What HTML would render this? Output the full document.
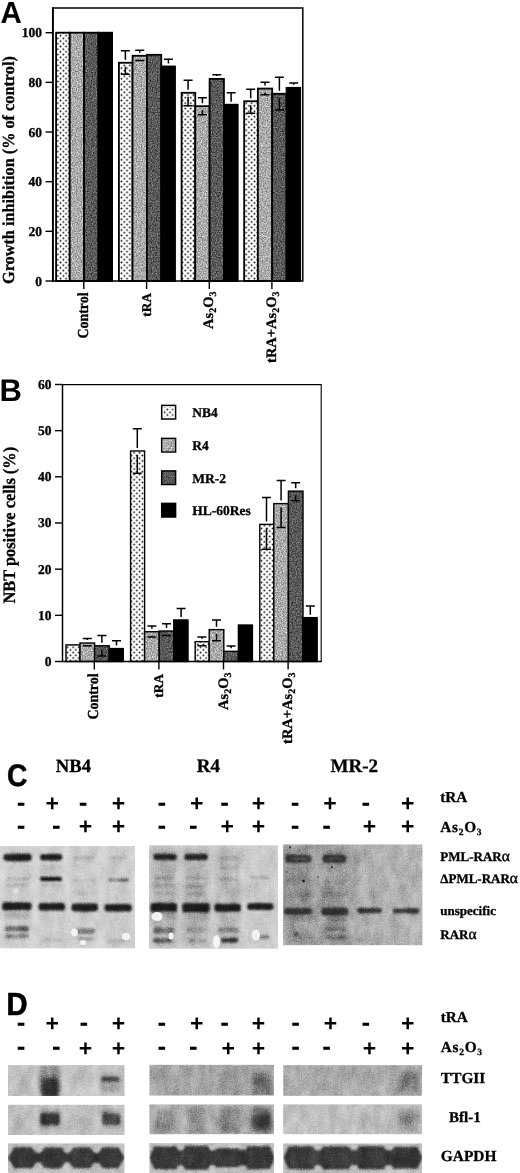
<!DOCTYPE html>
<html lang="en"><head><meta charset="utf-8"><title>Figure</title>
<style>html,body{margin:0;padding:0;background:#fff}svg{display:block}text{font-family:"Liberation Serif", "DejaVu Serif", serif;font-weight:bold;fill:#000;stroke:#000;stroke-width:0.3px;text-rendering:geometricPrecision}.pl,.pm{font-family:"Liberation Sans", "DejaVu Sans", sans-serif;font-weight:bold;font-size:29px;stroke:none}.pm{font-size:26px}.pp{font-size:23px}</style></head><body>
<svg width="520" height="1173" viewBox="0 0 520 1173">
<defs>
<pattern id="dots" width="5.54" height="5.4" patternUnits="userSpaceOnUse" patternTransform="translate(56.4,101.8)"><rect width="5.54" height="5.4" fill="#fff"/><circle cx="1.385" cy="1.35" r="0.9" fill="#000"/><circle cx="4.155" cy="4.05" r="0.9" fill="#000"/></pattern>
<pattern id="dotsB" width="5.54" height="5.4" patternUnits="userSpaceOnUse" patternTransform="translate(132.7,500.05)"><rect width="5.54" height="5.4" fill="#fff"/><circle cx="1.385" cy="1.35" r="0.9" fill="#000"/><circle cx="4.155" cy="4.05" r="0.9" fill="#000"/></pattern>
<filter id="nL" x="0" y="0" width="100%" height="100%" color-interpolation-filters="sRGB"><feTurbulence type="fractalNoise" baseFrequency="0.8" numOctaves="2" seed="3" result="n"/><feColorMatrix in="n" type="matrix" values="0.8 0 0 0 0.27  0.8 0 0 0 0.27  0.8 0 0 0 0.27  0 0 0 0 1" result="g"/><feComposite in="g" in2="SourceGraphic" operator="in"/></filter>
<filter id="nD" x="0" y="0" width="100%" height="100%" color-interpolation-filters="sRGB"><feTurbulence type="fractalNoise" baseFrequency="0.8" numOctaves="2" seed="3" result="n"/><feColorMatrix in="n" type="matrix" values="0.7 0 0 0 0.0  0.7 0 0 0 0.0  0.7 0 0 0 0.0  0 0 0 0 1" result="g"/><feComposite in="g" in2="SourceGraphic" operator="in"/></filter>
<filter id="nB1" x="0" y="0" width="100%" height="100%" color-interpolation-filters="sRGB"><feTurbulence type="fractalNoise" baseFrequency="0.5" numOctaves="2" seed="5" result="n"/><feColorMatrix in="n" type="matrix" values="0.25 0 0 0 0.675  0.25 0 0 0 0.675  0.25 0 0 0 0.675  0 0 0 0 1" result="g"/><feComposite in="g" in2="SourceGraphic" operator="in"/></filter>
<filter id="nB2" x="0" y="0" width="100%" height="100%" color-interpolation-filters="sRGB"><feTurbulence type="fractalNoise" baseFrequency="0.5" numOctaves="2" seed="7" result="n"/><feColorMatrix in="n" type="matrix" values="0.3 0 0 0 0.44999999999999996  0.3 0 0 0 0.44999999999999996  0.3 0 0 0 0.44999999999999996  0 0 0 0 1" result="g"/><feComposite in="g" in2="SourceGraphic" operator="in"/></filter>
<filter id="nB3" x="0" y="0" width="100%" height="100%" color-interpolation-filters="sRGB"><feTurbulence type="fractalNoise" baseFrequency="0.5" numOctaves="2" seed="9" result="n"/><feColorMatrix in="n" type="matrix" values="0.3 0 0 0 0.53  0.3 0 0 0 0.53  0.3 0 0 0 0.53  0 0 0 0 1" result="g"/><feComposite in="g" in2="SourceGraphic" operator="in"/></filter>
<filter id="b1" x="-20%" y="-50%" width="140%" height="200%"><feGaussianBlur stdDeviation="1.0"/></filter>
<filter id="b2" x="-30%" y="-50%" width="160%" height="200%"><feGaussianBlur stdDeviation="2"/></filter>
<filter id="b3" x="-30%" y="-50%" width="160%" height="200%"><feGaussianBlur stdDeviation="3"/></filter>
<filter id="b05" x="-20%" y="-50%" width="140%" height="200%"><feGaussianBlur stdDeviation="0.6"/></filter>
<filter id="grain" x="0" y="0" width="100%" height="100%" color-interpolation-filters="sRGB"><feTurbulence type="fractalNoise" baseFrequency="0.75" numOctaves="2" seed="11" result="n"/><feColorMatrix in="n" type="matrix" values="0.46 0 0 0 0.27  0.46 0 0 0 0.27  0.46 0 0 0 0.27  0 0 0 0 1" result="g"/><feComposite in="g" in2="SourceGraphic" operator="in"/></filter>
<filter id="mottle" x="0" y="0" width="100%" height="100%" color-interpolation-filters="sRGB"><feTurbulence type="fractalNoise" baseFrequency="0.10 0.06" numOctaves="2" seed="4" result="n"/><feColorMatrix in="n" type="matrix" values="0.36 0 0 0 0.32  0.36 0 0 0 0.32  0.36 0 0 0 0.32  0 0 0 0 1" result="g"/><feComposite in="g" in2="SourceGraphic" operator="in"/></filter>
</defs>
<rect width="520" height="1173" fill="#fff"/>
<text class="pl" transform="translate(0.6 22.5) scale(0.97 1)" style="font-size:30.4px">A</text>
<rect x="55.40" y="32.70" width="14.35" height="248.30" fill="url(#dots)"/>
<rect x="56.10" y="32.70" width="13.65" height="248.30" fill="none" stroke="#000" stroke-width="1.8"/>
<rect x="69.75" y="32.70" width="14.35" height="248.30" fill="#ababab"/>
<rect x="69.75" y="32.70" width="14.35" height="248.30" fill="#fff" filter="url(#nL)"/>
<rect x="69.75" y="32.70" width="14.35" height="248.30" fill="none" stroke="#000" stroke-width="1.8"/>
<rect x="84.10" y="32.70" width="14.35" height="248.30" fill="#595959"/>
<rect x="84.10" y="32.70" width="14.35" height="248.30" fill="#fff" filter="url(#nD)"/>
<rect x="84.10" y="32.70" width="14.35" height="248.30" fill="none" stroke="#000" stroke-width="1.8"/>
<rect x="98.45" y="32.70" width="14.35" height="248.30" fill="#000"/>
<rect x="98.45" y="32.70" width="13.65" height="248.30" fill="none" stroke="#000" stroke-width="1.8"/>
<rect x="118.20" y="62.74" width="14.35" height="218.26" fill="url(#dots)"/>
<rect x="118.90" y="62.74" width="13.65" height="218.26" fill="none" stroke="#000" stroke-width="1.8"/>
<rect x="132.55" y="55.79" width="14.35" height="225.21" fill="#ababab"/>
<rect x="132.55" y="55.79" width="14.35" height="225.21" fill="#fff" filter="url(#nL)"/>
<rect x="132.55" y="55.79" width="14.35" height="225.21" fill="none" stroke="#000" stroke-width="1.8"/>
<rect x="146.90" y="54.80" width="14.35" height="226.20" fill="#595959"/>
<rect x="146.90" y="54.80" width="14.35" height="226.20" fill="#fff" filter="url(#nD)"/>
<rect x="146.90" y="54.80" width="14.35" height="226.20" fill="none" stroke="#000" stroke-width="1.8"/>
<rect x="161.25" y="66.47" width="14.35" height="214.53" fill="#000"/>
<rect x="161.25" y="66.47" width="13.65" height="214.53" fill="none" stroke="#000" stroke-width="1.8"/>
<path d="M120.88 50.83H129.88M125.38 50.83V59.74" stroke="#000" stroke-width="1.5" fill="none"/>
<path d="M120.88 74.17H129.88M125.38 74.17V66.74" stroke="#000" stroke-width="1.5" fill="none"/>
<path d="M135.23 50.33H144.23M139.73 50.33V52.79" stroke="#000" stroke-width="1.5" fill="none"/>
<path d="M135.23 60.51H144.23" stroke="#000" stroke-width="1.5" fill="none"/>
<path d="M163.93 59.27H172.93M168.43 59.27V63.47" stroke="#000" stroke-width="1.5" fill="none"/>
<rect x="180.90" y="92.79" width="14.35" height="188.21" fill="url(#dots)"/>
<rect x="181.60" y="92.79" width="13.65" height="188.21" fill="none" stroke="#000" stroke-width="1.8"/>
<rect x="195.25" y="106.20" width="14.35" height="174.80" fill="#ababab"/>
<rect x="195.25" y="106.20" width="14.35" height="174.80" fill="#fff" filter="url(#nL)"/>
<rect x="195.25" y="106.20" width="14.35" height="174.80" fill="none" stroke="#000" stroke-width="1.8"/>
<rect x="209.60" y="78.88" width="14.35" height="202.12" fill="#595959"/>
<rect x="209.60" y="78.88" width="14.35" height="202.12" fill="#fff" filter="url(#nD)"/>
<rect x="209.60" y="78.88" width="14.35" height="202.12" fill="none" stroke="#000" stroke-width="1.8"/>
<rect x="223.95" y="104.71" width="14.35" height="176.29" fill="#000"/>
<rect x="223.95" y="104.71" width="13.65" height="176.29" fill="none" stroke="#000" stroke-width="1.8"/>
<path d="M183.58 80.37H192.58M188.08 80.37V89.79" stroke="#000" stroke-width="1.5" fill="none"/>
<path d="M183.58 105.70H192.58M188.08 105.70V96.79" stroke="#000" stroke-width="1.5" fill="none"/>
<path d="M197.93 97.75H206.93M202.43 97.75V103.20" stroke="#000" stroke-width="1.5" fill="none"/>
<path d="M197.93 114.64H206.93M202.43 114.64V110.20" stroke="#000" stroke-width="1.5" fill="none"/>
<path d="M212.28 74.66H221.28M216.78 74.66V75.88" stroke="#000" stroke-width="1.5" fill="none"/>
<path d="M226.62 92.79H235.62M231.12 92.79V101.71" stroke="#000" stroke-width="1.5" fill="none"/>
<rect x="243.50" y="101.23" width="14.35" height="179.77" fill="url(#dots)"/>
<rect x="244.20" y="101.23" width="13.65" height="179.77" fill="none" stroke="#000" stroke-width="1.8"/>
<rect x="257.85" y="88.57" width="14.35" height="192.43" fill="#ababab"/>
<rect x="257.85" y="88.57" width="14.35" height="192.43" fill="#fff" filter="url(#nL)"/>
<rect x="257.85" y="88.57" width="14.35" height="192.43" fill="none" stroke="#000" stroke-width="1.8"/>
<rect x="272.20" y="93.78" width="14.35" height="187.22" fill="#595959"/>
<rect x="272.20" y="93.78" width="14.35" height="187.22" fill="#fff" filter="url(#nD)"/>
<rect x="272.20" y="93.78" width="14.35" height="187.22" fill="none" stroke="#000" stroke-width="1.8"/>
<rect x="286.55" y="87.82" width="14.35" height="193.18" fill="#000"/>
<rect x="286.55" y="87.82" width="13.65" height="193.18" fill="none" stroke="#000" stroke-width="1.8"/>
<path d="M246.18 89.31H255.18M250.68 89.31V98.23" stroke="#000" stroke-width="1.5" fill="none"/>
<path d="M246.18 113.15H255.18M250.68 113.15V105.23" stroke="#000" stroke-width="1.5" fill="none"/>
<path d="M260.53 82.36H269.53M265.03 82.36V85.57" stroke="#000" stroke-width="1.5" fill="none"/>
<path d="M260.53 94.78H269.53M265.03 94.78V92.57" stroke="#000" stroke-width="1.5" fill="none"/>
<path d="M274.88 77.15H283.88M279.38 77.15V90.78" stroke="#000" stroke-width="1.5" fill="none"/>
<path d="M274.88 109.92H283.88M279.38 109.92V97.78" stroke="#000" stroke-width="1.5" fill="none"/>
<path d="M289.23 83.10H298.23M293.73 83.10V84.82" stroke="#000" stroke-width="1.5" fill="none"/>
<rect x="53.00" y="8.00" width="249.80" height="273.00" fill="none" stroke="#000" stroke-width="1.5"/>
<path d="M52.80 7.30V281.70" stroke="#000" stroke-width="1.7"/>
<path d="M45.5 281.00H53.00" stroke="#000" stroke-width="1.4"/>
<text x="42" y="285.50" text-anchor="end" style="font-size:13.5px">0</text>
<path d="M45.5 231.34H53.00" stroke="#000" stroke-width="1.4"/>
<text x="42" y="235.84" text-anchor="end" style="font-size:13.5px">20</text>
<path d="M45.5 181.68H53.00" stroke="#000" stroke-width="1.4"/>
<text x="42" y="186.18" text-anchor="end" style="font-size:13.5px">40</text>
<path d="M45.5 132.02H53.00" stroke="#000" stroke-width="1.4"/>
<text x="42" y="136.52" text-anchor="end" style="font-size:13.5px">60</text>
<path d="M45.5 82.36H53.00" stroke="#000" stroke-width="1.4"/>
<text x="42" y="86.86" text-anchor="end" style="font-size:13.5px">80</text>
<path d="M45.5 32.70H53.00" stroke="#000" stroke-width="1.4"/>
<text x="42" y="37.20" text-anchor="end" style="font-size:13.5px">100</text>
<path d="M83.80 281.00V289.00" stroke="#000" stroke-width="1.4"/>
<text transform="translate(87.80 292.50) rotate(-90) scale(1 1.10)" text-anchor="end" style="font-size:13.9px">Control</text>
<path d="M146.60 281.00V289.00" stroke="#000" stroke-width="1.4"/>
<text transform="translate(150.60 293.00) rotate(-90) scale(1 1.00)" text-anchor="end" style="font-size:13.3px">tRA</text>
<path d="M209.30 281.00V289.00" stroke="#000" stroke-width="1.4"/>
<text transform="translate(213.30 291.50) rotate(-90) scale(1 1.00)" text-anchor="end" style="font-size:14.5px">As<tspan dy="3" style="font-size:10.0px">2</tspan><tspan dy="-3">O</tspan><tspan dy="3" style="font-size:10.0px">3</tspan></text>
<path d="M271.90 281.00V289.00" stroke="#000" stroke-width="1.4"/>
<text transform="translate(275.90 291.50) rotate(-90) scale(1 1.00)" text-anchor="end" style="font-size:14.5px">tRA+As<tspan dy="3" style="font-size:10.0px">2</tspan><tspan dy="-3">O</tspan><tspan dy="3" style="font-size:10.0px">3</tspan></text>
<text transform="translate(14.3 284) rotate(-90) scale(1 1.04)" style="font-size:16.25px">Growth inhibition (% of control)</text>
<text class="pl" transform="translate(-0.6 400.9) scale(0.99 1)" style="font-size:31.3px">B</text>
<rect x="65.40" y="644.88" width="14.60" height="16.62" fill="url(#dotsB)"/>
<rect x="66.00" y="644.88" width="14.00" height="16.62" fill="none" stroke="#000" stroke-width="1.4"/>
<rect x="80.00" y="643.03" width="14.60" height="18.47" fill="#ababab"/>
<rect x="80.00" y="643.03" width="14.60" height="18.47" fill="#fff" filter="url(#nL)"/>
<rect x="80.00" y="643.03" width="14.60" height="18.47" fill="none" stroke="#000" stroke-width="1.4"/>
<rect x="94.60" y="645.80" width="14.60" height="15.70" fill="#595959"/>
<rect x="94.60" y="645.80" width="14.60" height="15.70" fill="#fff" filter="url(#nD)"/>
<rect x="94.60" y="645.80" width="14.60" height="15.70" fill="none" stroke="#000" stroke-width="1.4"/>
<rect x="109.20" y="648.57" width="14.60" height="12.93" fill="#000"/>
<rect x="109.20" y="648.57" width="14.00" height="12.93" fill="none" stroke="#000" stroke-width="1.4"/>
<path d="M82.80 638.41H91.80M87.30 638.41V640.03" stroke="#000" stroke-width="1.5" fill="none"/>
<path d="M82.80 645.80H91.80" stroke="#000" stroke-width="1.5" fill="none"/>
<path d="M97.40 635.41H106.40M101.90 635.41V642.80" stroke="#000" stroke-width="1.5" fill="none"/>
<path d="M97.40 655.96H106.40M101.90 655.96V649.80" stroke="#000" stroke-width="1.5" fill="none"/>
<path d="M112.00 640.72H121.00M116.50 640.72V645.57" stroke="#000" stroke-width="1.5" fill="none"/>
<rect x="130.00" y="450.96" width="14.60" height="210.54" fill="url(#dotsB)"/>
<rect x="130.60" y="450.96" width="14.00" height="210.54" fill="none" stroke="#000" stroke-width="1.4"/>
<rect x="144.60" y="631.72" width="14.60" height="29.78" fill="#ababab"/>
<rect x="144.60" y="631.72" width="14.60" height="29.78" fill="#fff" filter="url(#nL)"/>
<rect x="144.60" y="631.72" width="14.60" height="29.78" fill="none" stroke="#000" stroke-width="1.4"/>
<rect x="159.20" y="631.03" width="14.60" height="30.47" fill="#595959"/>
<rect x="159.20" y="631.03" width="14.60" height="30.47" fill="#fff" filter="url(#nD)"/>
<rect x="159.20" y="631.03" width="14.60" height="30.47" fill="none" stroke="#000" stroke-width="1.4"/>
<rect x="173.80" y="619.95" width="14.60" height="41.55" fill="#000"/>
<rect x="173.80" y="619.95" width="14.00" height="41.55" fill="none" stroke="#000" stroke-width="1.4"/>
<path d="M132.80 428.80H141.80M137.30 428.80V447.96" stroke="#000" stroke-width="1.5" fill="none"/>
<path d="M132.80 473.13H141.80M137.30 473.13V454.96" stroke="#000" stroke-width="1.5" fill="none"/>
<path d="M147.40 625.95H156.40M151.90 625.95V628.72" stroke="#000" stroke-width="1.5" fill="none"/>
<path d="M147.40 637.03H156.40M151.90 637.03V635.72" stroke="#000" stroke-width="1.5" fill="none"/>
<path d="M162.00 623.64H171.00M166.50 623.64V628.03" stroke="#000" stroke-width="1.5" fill="none"/>
<path d="M162.00 635.41H171.00" stroke="#000" stroke-width="1.5" fill="none"/>
<path d="M176.60 608.40H185.60M181.10 608.40V616.95" stroke="#000" stroke-width="1.5" fill="none"/>
<rect x="194.60" y="641.65" width="14.60" height="19.85" fill="url(#dotsB)"/>
<rect x="195.20" y="641.65" width="14.00" height="19.85" fill="none" stroke="#000" stroke-width="1.4"/>
<rect x="209.20" y="629.64" width="14.60" height="31.86" fill="#ababab"/>
<rect x="209.20" y="629.64" width="14.60" height="31.86" fill="#fff" filter="url(#nL)"/>
<rect x="209.20" y="629.64" width="14.60" height="31.86" fill="none" stroke="#000" stroke-width="1.4"/>
<rect x="223.80" y="651.34" width="14.60" height="10.16" fill="#595959"/>
<rect x="223.80" y="651.34" width="14.60" height="10.16" fill="#fff" filter="url(#nD)"/>
<rect x="223.80" y="651.34" width="14.60" height="10.16" fill="none" stroke="#000" stroke-width="1.4"/>
<rect x="238.40" y="625.03" width="14.60" height="36.47" fill="#000"/>
<rect x="238.40" y="625.03" width="14.00" height="36.47" fill="none" stroke="#000" stroke-width="1.4"/>
<path d="M197.40 637.03H206.40M201.90 637.03V638.65" stroke="#000" stroke-width="1.5" fill="none"/>
<path d="M197.40 645.80H206.40" stroke="#000" stroke-width="1.5" fill="none"/>
<path d="M212.00 619.95H221.00M216.50 619.95V626.64" stroke="#000" stroke-width="1.5" fill="none"/>
<path d="M212.00 640.72H221.00M216.50 640.72V633.64" stroke="#000" stroke-width="1.5" fill="none"/>
<path d="M226.60 646.03H235.60M231.10 646.03V648.34" stroke="#000" stroke-width="1.5" fill="none"/>
<rect x="259.20" y="524.38" width="14.60" height="137.12" fill="url(#dotsB)"/>
<rect x="259.80" y="524.38" width="14.00" height="137.12" fill="none" stroke="#000" stroke-width="1.4"/>
<rect x="273.80" y="503.60" width="14.60" height="157.90" fill="#ababab"/>
<rect x="273.80" y="503.60" width="14.60" height="157.90" fill="#fff" filter="url(#nL)"/>
<rect x="273.80" y="503.60" width="14.60" height="157.90" fill="none" stroke="#000" stroke-width="1.4"/>
<rect x="288.40" y="491.13" width="14.60" height="170.37" fill="#595959"/>
<rect x="288.40" y="491.13" width="14.60" height="170.37" fill="#fff" filter="url(#nD)"/>
<rect x="288.40" y="491.13" width="14.60" height="170.37" fill="none" stroke="#000" stroke-width="1.4"/>
<rect x="303.00" y="617.64" width="14.60" height="43.86" fill="#000"/>
<rect x="303.00" y="617.64" width="14.00" height="43.86" fill="none" stroke="#000" stroke-width="1.4"/>
<path d="M262.00 497.60H271.00M266.50 497.60V521.38" stroke="#000" stroke-width="1.5" fill="none"/>
<path d="M262.00 549.31H271.00M266.50 549.31V528.38" stroke="#000" stroke-width="1.5" fill="none"/>
<path d="M276.60 480.51H285.60M281.10 480.51V500.60" stroke="#000" stroke-width="1.5" fill="none"/>
<path d="M276.60 527.61H285.60M281.10 527.61V507.60" stroke="#000" stroke-width="1.5" fill="none"/>
<path d="M291.20 482.82H300.20M295.70 482.82V488.13" stroke="#000" stroke-width="1.5" fill="none"/>
<path d="M291.20 500.83H300.20M295.70 500.83V495.13" stroke="#000" stroke-width="1.5" fill="none"/>
<path d="M305.80 606.10H314.80M310.30 606.10V614.64" stroke="#000" stroke-width="1.5" fill="none"/>
<path d="M62.50 384.60H321.20V661.50" fill="none" stroke="#000" stroke-width="1.1"/>
<path d="M62.50 384.10V661.50H321.70" fill="none" stroke="#000" stroke-width="1.5"/>
<path d="M55 661.50H62.50" stroke="#000" stroke-width="1.4"/>
<text x="51.5" y="666.00" text-anchor="end" style="font-size:13.5px">0</text>
<path d="M55 615.33H62.50" stroke="#000" stroke-width="1.4"/>
<text x="51.5" y="619.83" text-anchor="end" style="font-size:13.5px">10</text>
<path d="M55 569.16H62.50" stroke="#000" stroke-width="1.4"/>
<text x="51.5" y="573.66" text-anchor="end" style="font-size:13.5px">20</text>
<path d="M55 522.99H62.50" stroke="#000" stroke-width="1.4"/>
<text x="51.5" y="527.49" text-anchor="end" style="font-size:13.5px">30</text>
<path d="M55 476.82H62.50" stroke="#000" stroke-width="1.4"/>
<text x="51.5" y="481.32" text-anchor="end" style="font-size:13.5px">40</text>
<path d="M55 430.65H62.50" stroke="#000" stroke-width="1.4"/>
<text x="51.5" y="435.15" text-anchor="end" style="font-size:13.5px">50</text>
<path d="M55 384.48H62.50" stroke="#000" stroke-width="1.4"/>
<text x="51.5" y="388.98" text-anchor="end" style="font-size:13.5px">60</text>
<path d="M94.30 661.50V669.50" stroke="#000" stroke-width="1.4"/>
<text transform="translate(98.30 673.50) rotate(-90) scale(1 1.10)" text-anchor="end" style="font-size:13.9px">Control</text>
<path d="M158.90 661.50V669.50" stroke="#000" stroke-width="1.4"/>
<text transform="translate(162.90 674.00) rotate(-90) scale(1 1.00)" text-anchor="end" style="font-size:13.3px">tRA</text>
<path d="M223.50 661.50V669.50" stroke="#000" stroke-width="1.4"/>
<text transform="translate(227.50 672.50) rotate(-90) scale(1 1.00)" text-anchor="end" style="font-size:14.5px">As<tspan dy="3" style="font-size:10.0px">2</tspan><tspan dy="-3">O</tspan><tspan dy="3" style="font-size:10.0px">3</tspan></text>
<path d="M288.10 661.50V669.50" stroke="#000" stroke-width="1.4"/>
<text transform="translate(292.10 672.50) rotate(-90) scale(1 1.00)" text-anchor="end" style="font-size:14.5px">tRA+As<tspan dy="3" style="font-size:10.0px">2</tspan><tspan dy="-3">O</tspan><tspan dy="3" style="font-size:10.0px">3</tspan></text>
<text transform="translate(14.5 603.6) rotate(-90) scale(1 1.06)" style="font-size:16.4px">NBT positive cells (%)</text>
<rect x="163.70" y="407.40" width="9.90" height="9.60" fill="url(#dotsB)"/>
<rect x="163.70" y="407.40" width="9.90" height="9.60" fill="none" stroke="#000" stroke-width="0.0"/>
<rect x="161.7" y="405.40" width="13.9" height="13.6" fill="none" stroke="#000" stroke-width="1.5"/>
<text x="192.3" y="417.00" style="font-size:13.5px">NB4</text>
<rect x="162.70" y="439.40" width="11.90" height="11.60" fill="#ababab"/>
<rect x="162.70" y="439.40" width="11.90" height="11.60" fill="#fff" filter="url(#nL)"/>
<rect x="162.70" y="439.40" width="11.90" height="11.60" fill="none" stroke="#000" stroke-width="0.0"/>
<rect x="161.7" y="438.40" width="13.9" height="13.6" fill="none" stroke="#000" stroke-width="1.5"/>
<text x="192.3" y="450.00" style="font-size:13.5px">R4</text>
<rect x="162.00" y="471.20" width="13.30" height="13.00" fill="#595959"/>
<rect x="162.00" y="471.20" width="13.30" height="13.00" fill="#fff" filter="url(#nD)"/>
<rect x="162.00" y="471.20" width="13.30" height="13.00" fill="none" stroke="#000" stroke-width="0.0"/>
<rect x="161.7" y="470.90" width="13.9" height="13.6" fill="none" stroke="#000" stroke-width="1.5"/>
<text x="192.3" y="482.50" style="font-size:13.5px">MR-2</text>
<rect x="161.70" y="503.40" width="13.90" height="13.60" fill="#000"/>
<rect x="161.70" y="503.40" width="13.90" height="13.60" fill="none" stroke="#000" stroke-width="0.0"/>
<rect x="161.7" y="503.40" width="13.9" height="13.6" fill="none" stroke="#000" stroke-width="1.5"/>
<text x="192.3" y="515.00" style="font-size:13.5px">HL-60Res</text>
<text class="pl" transform="translate(6.9 786.3) scale(0.91 1)" style="font-size:31px;stroke:#000;stroke-width:0.5px">C</text>
<text x="55.8" y="771.7" style="font-size:18.6px">NB4</text>
<text x="196.8" y="772.4" style="font-size:19px">R4</text>
<text x="330.5" y="771.6" style="font-size:19px">MR-2</text>
<text class="pm" x="21.0" y="810.9" text-anchor="middle">-</text>
<text class="pm pp" x="52.3" y="811.2" text-anchor="middle">+</text>
<text class="pm" x="83.2" y="810.9" text-anchor="middle">-</text>
<text class="pm pp" x="118.5" y="811.2" text-anchor="middle">+</text>
<text class="pm" x="161.8" y="810.9" text-anchor="middle">-</text>
<text class="pm pp" x="196.6" y="811.2" text-anchor="middle">+</text>
<text class="pm" x="224.6" y="810.9" text-anchor="middle">-</text>
<text class="pm pp" x="258.5" y="811.2" text-anchor="middle">+</text>
<text class="pm" x="295.1" y="810.9" text-anchor="middle">-</text>
<text class="pm pp" x="329.9" y="811.2" text-anchor="middle">+</text>
<text class="pm" x="365.9" y="810.9" text-anchor="middle">-</text>
<text class="pm pp" x="407.7" y="811.2" text-anchor="middle">+</text>
<text class="pm" x="21.0" y="833.5" text-anchor="middle">-</text>
<text class="pm" x="56.3" y="833.5" text-anchor="middle">-</text>
<text class="pm pp" x="85.4" y="834.3" text-anchor="middle">+</text>
<text class="pm pp" x="118.5" y="834.3" text-anchor="middle">+</text>
<text class="pm" x="161.8" y="833.5" text-anchor="middle">-</text>
<text class="pm" x="193.3" y="833.5" text-anchor="middle">-</text>
<text class="pm pp" x="227.3" y="834.3" text-anchor="middle">+</text>
<text class="pm pp" x="258.5" y="834.3" text-anchor="middle">+</text>
<text class="pm" x="295.1" y="833.5" text-anchor="middle">-</text>
<text class="pm" x="326.6" y="833.5" text-anchor="middle">-</text>
<text class="pm pp" x="369.5" y="834.3" text-anchor="middle">+</text>
<text class="pm pp" x="407.7" y="834.3" text-anchor="middle">+</text>
<text x="440.3" y="802.3" style="font-size:15.2px">tRA</text>
<text x="440.3" y="831.6" style="font-size:15.3px;letter-spacing:0.7px">As<tspan dy="3" style="font-size:9.5px">2</tspan><tspan dy="-3">O</tspan><tspan dy="3" style="font-size:9.5px">3</tspan></text>
<text x="440.3" y="860.8" style="font-size:13px">PML-RAR<tspan style="font-size:15.5px;font-weight:normal;stroke-width:0.45px">α</tspan></text>
<text x="440.3" y="883.4" style="font-size:13px">ΔPML-RAR<tspan style="font-size:15.5px;font-weight:normal;stroke-width:0.45px">α</tspan></text>
<text x="440.3" y="915" style="font-size:13px">unspecific</text>
<text x="440.3" y="939" style="font-size:13px">RAR<tspan style="font-size:15.5px;font-weight:normal;stroke-width:0.45px">α</tspan></text>
<clipPath id="cC1"><rect x="0.0" y="846.0" width="135.0" height="102.3"/></clipPath>
<g clip-path="url(#cC1)">
<rect x="0.0" y="846.0" width="135.0" height="102.3" fill="#d6d6d6"/>
<rect x="3.0" y="847.0" width="29.0" height="100.0" rx="3.0" fill="#c6c6c6" filter="url(#b3)" opacity="0.70"/>
<rect x="39.0" y="847.0" width="25.0" height="100.0" rx="3.0" fill="#c6c6c6" filter="url(#b3)" opacity="0.70"/>
<rect x="71.0" y="847.0" width="27.0" height="100.0" rx="3.0" fill="#c6c6c6" filter="url(#b3)" opacity="0.70"/>
<rect x="104.0" y="847.0" width="28.0" height="100.0" rx="3.0" fill="#c6c6c6" filter="url(#b3)" opacity="0.70"/>
<rect x="3.5" y="853.8" width="28.0" height="7.5" rx="3.0" fill="#1c1c1c" filter="url(#b1)"/>
<rect x="40.0" y="854.0" width="22.5" height="6.5" rx="3.0" fill="#1c1c1c" filter="url(#b1)"/>
<rect x="73.0" y="856.5" width="22.0" height="3.0" rx="1.5" fill="#b4b4b4" filter="url(#b1)"/>
<rect x="107.0" y="856.5" width="21.0" height="3.0" rx="1.5" fill="#b8b8b8" filter="url(#b1)"/>
<rect x="40.0" y="876.9" width="22.0" height="4.2" rx="2.1" fill="#080808" filter="url(#b1)"/>
<rect x="108.0" y="878.6" width="21.0" height="2.8" rx="1.4" fill="#6e6e6e" filter="url(#b1)"/>
<rect x="6.0" y="877.5" width="23.0" height="3.0" rx="1.5" fill="#b4b4b4" filter="url(#b1)"/>
<rect x="6.0" y="883.0" width="23.0" height="4.0" rx="2.0" fill="#b8b8b8" filter="url(#b1)"/>
<rect x="73.0" y="878.8" width="22.0" height="2.5" rx="1.2" fill="#bcbcbc" filter="url(#b1)"/>
<rect x="42.0" y="865.5" width="19.0" height="3.0" rx="1.5" fill="#bbbbbb" filter="url(#b1)"/>
<rect x="42.0" y="883.5" width="19.0" height="3.0" rx="1.5" fill="#b8b8b8" filter="url(#b1)"/>
<rect x="74.0" y="891.0" width="22.0" height="4.0" rx="2.0" fill="#c2c2c2" filter="url(#b1)"/>
<rect x="2.5" y="902.3" width="29.0" height="8.0" rx="3.0" fill="#1c1c1c" filter="url(#b1)"/>
<rect x="38.5" y="903.0" width="26.5" height="7.5" rx="3.0" fill="#1c1c1c" filter="url(#b1)"/>
<rect x="71.5" y="903.5" width="26.5" height="8.0" rx="3.0" fill="#1c1c1c" filter="url(#b1)"/>
<rect x="104.5" y="904.0" width="27.5" height="7.5" rx="3.0" fill="#1c1c1c" filter="url(#b1)"/>
<rect x="6.0" y="912.5" width="24.0" height="5.0" rx="2.5" fill="#a4a4a4" filter="url(#b2)"/>
<rect x="5.0" y="925.9" width="24.0" height="5.5" rx="2.8" fill="#666666" filter="url(#b1)"/>
<rect x="5.0" y="933.8" width="24.0" height="4.5" rx="2.2" fill="#868686" filter="url(#b1)"/>
<rect x="76.0" y="928.2" width="19.0" height="5.5" rx="2.8" fill="#7a7a7a" filter="url(#b1)"/>
<rect x="78.0" y="937.2" width="17.0" height="3.5" rx="1.8" fill="#a0a0a0" filter="url(#b1)"/>
<rect x="42.0" y="938.5" width="20.0" height="3.0" rx="1.5" fill="#b4b4b4" filter="url(#b1)"/>
<rect x="108.0" y="939.5" width="18.0" height="3.0" rx="1.5" fill="#b8b8b8" filter="url(#b1)"/>
<ellipse cx="15.5" cy="891.0" rx="2.6" ry="2.2" fill="#e6e6e6" filter="url(#b1)"/>
<ellipse cx="74.5" cy="932.5" rx="3.3" ry="4.0" fill="#f4f4f4" filter="url(#b05)"/>
<ellipse cx="83.0" cy="942.5" rx="3.0" ry="2.6" fill="#f4f4f4" filter="url(#b05)"/>
<ellipse cx="126.0" cy="936.5" rx="4.2" ry="3.8" fill="#f4f4f4" filter="url(#b05)"/>
<rect x="0.0" y="846.0" width="135.0" height="102.3" fill="#fff" filter="url(#mottle)" style="mix-blend-mode:overlay"/>
<rect x="0.0" y="846.0" width="135.0" height="102.3" fill="#fff" filter="url(#grain)" style="mix-blend-mode:overlay"/>
</g>
<clipPath id="cC2"><rect x="149.0" y="845.5" width="128.7" height="103.0"/></clipPath>
<g clip-path="url(#cC2)">
<rect x="149.0" y="845.5" width="128.7" height="103.0" fill="#d2d2d2"/>
<rect x="152.0" y="847.0" width="25.0" height="100.0" rx="3.0" fill="#a8a8a8" filter="url(#b3)" opacity="0.80"/>
<rect x="183.0" y="847.0" width="26.0" height="100.0" rx="3.0" fill="#aaaaaa" filter="url(#b3)" opacity="0.80"/>
<rect x="215.0" y="847.0" width="26.0" height="100.0" rx="3.0" fill="#b2b2b2" filter="url(#b3)" opacity="0.80"/>
<rect x="247.0" y="847.0" width="26.0" height="100.0" rx="3.0" fill="#c6c6c6" filter="url(#b3)" opacity="0.80"/>
<rect x="153.5" y="853.8" width="23.0" height="6.5" rx="3.0" fill="#242424" filter="url(#b1)"/>
<rect x="184.5" y="853.8" width="23.3" height="6.5" rx="3.0" fill="#242424" filter="url(#b1)"/>
<rect x="219.0" y="856.5" width="19.0" height="3.0" rx="1.5" fill="#9a9a9a" filter="url(#b1)"/>
<rect x="155.0" y="876.2" width="20.0" height="3.5" rx="1.8" fill="#949494" filter="url(#b1)"/>
<rect x="155.0" y="883.8" width="20.0" height="3.5" rx="1.8" fill="#989898" filter="url(#b1)"/>
<rect x="155.0" y="891.8" width="20.0" height="3.5" rx="1.8" fill="#969696" filter="url(#b1)"/>
<rect x="186.0" y="876.2" width="20.0" height="3.5" rx="1.8" fill="#969696" filter="url(#b1)"/>
<rect x="186.0" y="884.2" width="20.0" height="3.5" rx="1.8" fill="#9a9a9a" filter="url(#b1)"/>
<rect x="186.0" y="892.5" width="20.0" height="3.0" rx="1.5" fill="#a0a0a0" filter="url(#b1)"/>
<rect x="219.0" y="877.5" width="19.0" height="3.0" rx="1.5" fill="#9e9e9e" filter="url(#b1)"/>
<rect x="219.0" y="866.5" width="19.0" height="3.0" rx="1.5" fill="#a6a6a6" filter="url(#b1)"/>
<rect x="250.0" y="876.2" width="19.0" height="2.5" rx="1.2" fill="#a2a2a2" filter="url(#b1)"/>
<rect x="150.5" y="903.0" width="26.5" height="9.6" rx="3.0" fill="#1c1c1c" filter="url(#b1)"/>
<rect x="182.5" y="903.0" width="27.0" height="10.0" rx="3.0" fill="#1c1c1c" filter="url(#b1)"/>
<rect x="214.5" y="903.8" width="26.5" height="8.0" rx="3.0" fill="#1c1c1c" filter="url(#b1)"/>
<rect x="246.8" y="903.0" width="26.5" height="7.0" rx="3.0" fill="#1c1c1c" filter="url(#b1)"/>
<rect x="152.0" y="912.5" width="24.0" height="5.0" rx="2.5" fill="#909090" filter="url(#b2)"/>
<rect x="185.0" y="913.5" width="23.0" height="5.0" rx="2.5" fill="#a0a0a0" filter="url(#b2)"/>
<rect x="153.0" y="927.5" width="21.0" height="6.0" rx="3.0" fill="#6c6c6c" filter="url(#b1)"/>
<rect x="153.0" y="938.0" width="19.0" height="5.0" rx="2.5" fill="#5c5c5c" filter="url(#b1)"/>
<rect x="186.0" y="927.5" width="20.0" height="5.0" rx="2.5" fill="#9a9a9a" filter="url(#b1)"/>
<rect x="188.0" y="938.5" width="18.0" height="4.0" rx="2.0" fill="#909090" filter="url(#b1)"/>
<rect x="218.0" y="927.5" width="21.0" height="5.0" rx="2.5" fill="#8a8a8a" filter="url(#b1)"/>
<rect x="221.0" y="937.8" width="17.0" height="5.0" rx="2.5" fill="#303030" filter="url(#b1)"/>
<rect x="259.0" y="935.0" width="10.0" height="4.0" rx="2.0" fill="#848484" filter="url(#b1)"/>
<ellipse cx="157.0" cy="916.5" rx="5.5" ry="4.6" fill="#f4f4f4" filter="url(#b05)"/>
<ellipse cx="171.0" cy="936.0" rx="2.5" ry="3.5" fill="#f4f4f4" filter="url(#b05)"/>
<ellipse cx="216.5" cy="941.5" rx="3.6" ry="6.5" fill="#f4f4f4" filter="url(#b05)"/>
<ellipse cx="255.8" cy="935.0" rx="4.2" ry="5.6" fill="#f4f4f4" filter="url(#b05)"/>
<rect x="149.0" y="845.5" width="128.7" height="103.0" fill="#fff" filter="url(#mottle)" style="mix-blend-mode:overlay"/>
<rect x="149.0" y="845.5" width="128.7" height="103.0" fill="#fff" filter="url(#grain)" style="mix-blend-mode:overlay"/>
</g>
<linearGradient id="gM" x1="0" x2="1" y1="0" y2="0"><stop offset="0" stop-color="#a2a2a2"/><stop offset="0.45" stop-color="#a6a6a6"/><stop offset="0.56" stop-color="#b2b2b2"/><stop offset="1" stop-color="#b8b8b8"/></linearGradient>
<clipPath id="cC3"><rect x="283.2" y="844.5" width="139.2" height="100.7"/></clipPath>
<g clip-path="url(#cC3)">
<rect x="283.2" y="844.5" width="139.2" height="100.7" fill="url(#gM)"/>
<rect x="286.0" y="845.0" width="25.0" height="100.0" rx="3.0" fill="#8c8c8c" filter="url(#b3)" opacity="0.70"/>
<rect x="323.0" y="845.0" width="24.0" height="100.0" rx="3.0" fill="#8c8c8c" filter="url(#b3)" opacity="0.70"/>
<rect x="358.0" y="845.0" width="24.0" height="100.0" rx="3.0" fill="#acacac" filter="url(#b3)" opacity="0.70"/>
<rect x="394.0" y="845.0" width="25.0" height="100.0" rx="3.0" fill="#b0b0b0" filter="url(#b3)" opacity="0.70"/>
<rect x="285.5" y="854.8" width="26.0" height="8.0" rx="3.0" fill="#303030" filter="url(#b1)"/>
<rect x="322.5" y="854.8" width="23.3" height="8.0" rx="3.0" fill="#303030" filter="url(#b1)"/>
<rect x="290.0" y="857.5" width="18.0" height="2.2" rx="1.1" fill="#5a5a5a" filter="url(#b1)"/>
<rect x="326.0" y="857.5" width="17.0" height="2.2" rx="1.1" fill="#5a5a5a" filter="url(#b1)"/>
<rect x="287.0" y="878.5" width="24.0" height="5.0" rx="2.5" fill="#868686" filter="url(#b2)"/>
<rect x="287.0" y="892.0" width="24.0" height="6.0" rx="3.0" fill="#808080" filter="url(#b2)"/>
<rect x="324.0" y="878.0" width="23.0" height="4.0" rx="2.0" fill="#848484" filter="url(#b2)"/>
<rect x="324.0" y="891.0" width="23.0" height="6.0" rx="3.0" fill="#7c7c7c" filter="url(#b2)"/>
<rect x="325.0" y="868.0" width="21.0" height="4.0" rx="2.0" fill="#8c8c8c" filter="url(#b2)"/>
<rect x="358.0" y="891.5" width="24.0" height="5.0" rx="2.5" fill="#a2a2a2" filter="url(#b2)"/>
<rect x="396.0" y="874.5" width="14.0" height="5.0" rx="2.5" fill="#a6a6a6" filter="url(#b2)"/>
<rect x="284.0" y="908.1" width="27.8" height="7.0" rx="3.0" fill="#343434" filter="url(#b1)"/>
<rect x="321.5" y="907.4" width="26.5" height="8.5" rx="3.0" fill="#2e2e2e" filter="url(#b1)"/>
<rect x="357.0" y="907.8" width="24.6" height="5.6" rx="2.8" fill="#363636" filter="url(#b1)"/>
<rect x="393.0" y="908.2" width="26.4" height="5.2" rx="2.6" fill="#3a3a3a" filter="url(#b1)"/>
<rect x="286.0" y="916.0" width="25.0" height="4.0" rx="2.0" fill="#747474" filter="url(#b2)"/>
<rect x="324.0" y="916.5" width="22.0" height="4.0" rx="2.0" fill="#707070" filter="url(#b2)"/>
<rect x="325.0" y="927.0" width="21.0" height="4.0" rx="2.0" fill="#6e6e6e" filter="url(#b1)"/>
<rect x="325.0" y="935.5" width="21.0" height="4.0" rx="2.0" fill="#727272" filter="url(#b1)"/>
<rect x="288.0" y="935.5" width="21.0" height="5.0" rx="2.5" fill="#868686" filter="url(#b2)"/>
<ellipse cx="296.0" cy="934.0" rx="2.6" ry="2.6" fill="#505050" filter="url(#b1)"/>
<ellipse cx="360.0" cy="940.0" rx="3.0" ry="2.0" fill="#8c8c8c" filter="url(#b1)"/>
<circle cx="290.0" cy="847.5" r="0.9" fill="#1a1a1a"/>
<circle cx="303.5" cy="881.0" r="1.3" fill="#1a1a1a"/>
<circle cx="318.0" cy="877.0" r="0.8" fill="#1a1a1a"/>
<circle cx="332.0" cy="867.0" r="1.0" fill="#1a1a1a"/>
<circle cx="287.0" cy="872.0" r="0.7" fill="#1a1a1a"/>
<circle cx="299.0" cy="850.0" r="0.6" fill="#1a1a1a"/>
<rect x="283.2" y="844.5" width="139.2" height="100.7" fill="#fff" filter="url(#mottle)" style="mix-blend-mode:overlay"/>
<rect x="283.2" y="844.5" width="139.2" height="100.7" fill="#fff" filter="url(#grain)" style="mix-blend-mode:overlay"/>
</g>
<text class="pl" transform="translate(6.4 1015.1) scale(0.91 1)" style="font-size:32px;stroke:#000;stroke-width:0.7px">D</text>
<text class="pm" x="21.0" y="1031.1" text-anchor="middle">-</text>
<text class="pm pp" x="52.3" y="1031.2" text-anchor="middle">+</text>
<text class="pm" x="83.8" y="1031.1" text-anchor="middle">-</text>
<text class="pm pp" x="118.5" y="1031.2" text-anchor="middle">+</text>
<text class="pm" x="161.8" y="1031.1" text-anchor="middle">-</text>
<text class="pm pp" x="196.6" y="1031.2" text-anchor="middle">+</text>
<text class="pm" x="224.6" y="1031.1" text-anchor="middle">-</text>
<text class="pm pp" x="258.5" y="1031.2" text-anchor="middle">+</text>
<text class="pm" x="295.6" y="1031.1" text-anchor="middle">-</text>
<text class="pm pp" x="330.4" y="1031.2" text-anchor="middle">+</text>
<text class="pm" x="365.9" y="1031.1" text-anchor="middle">-</text>
<text class="pm pp" x="407.7" y="1031.2" text-anchor="middle">+</text>
<text class="pm" x="21.0" y="1054.6" text-anchor="middle">-</text>
<text class="pm" x="56.3" y="1054.6" text-anchor="middle">-</text>
<text class="pm pp" x="85.4" y="1055.6" text-anchor="middle">+</text>
<text class="pm pp" x="118.5" y="1055.6" text-anchor="middle">+</text>
<text class="pm" x="161.8" y="1054.6" text-anchor="middle">-</text>
<text class="pm" x="193.3" y="1054.6" text-anchor="middle">-</text>
<text class="pm pp" x="228.1" y="1055.6" text-anchor="middle">+</text>
<text class="pm pp" x="258.5" y="1055.6" text-anchor="middle">+</text>
<text class="pm" x="295.6" y="1054.6" text-anchor="middle">-</text>
<text class="pm" x="326.6" y="1054.6" text-anchor="middle">-</text>
<text class="pm pp" x="369.5" y="1055.6" text-anchor="middle">+</text>
<text class="pm pp" x="407.7" y="1055.6" text-anchor="middle">+</text>
<text x="440.8" y="1022" style="font-size:15.2px">tRA</text>
<text x="440.8" y="1052" style="font-size:15.3px;letter-spacing:0.7px">As<tspan dy="3" style="font-size:9.5px">2</tspan><tspan dy="-3">O</tspan><tspan dy="3" style="font-size:9.5px">3</tspan></text>
<text x="441" y="1082.6" style="font-size:15.3px">TTGII</text>
<text x="449" y="1121.9" style="font-size:15px">Bfl-1</text>
<text x="440.8" y="1160.9" style="font-size:15.4px">GAPDH</text>
<clipPath id="cD1"><rect x="8.0" y="1065.2" width="116.4" height="30.8"/></clipPath>
<g clip-path="url(#cD1)">
<rect x="8.0" y="1065.2" width="116.4" height="30.8" fill="#c6c6c6"/>
<rect x="12.0" y="1067.0" width="20.0" height="26.0" rx="3.0" fill="#b8b8b8" filter="url(#b3)" opacity="0.80"/>
<rect x="72.0" y="1067.0" width="20.0" height="26.0" rx="3.0" fill="#bcbcbc" filter="url(#b3)" opacity="0.60"/>
<rect x="40.0" y="1066.0" width="20.0" height="26.0" rx="3.0" fill="#8c8c8c" filter="url(#b2)"/>
<rect x="41.5" y="1078.0" width="17.0" height="20.0" rx="3.0" fill="#323232" filter="url(#b2)"/>
<rect x="101.0" y="1074.0" width="19.0" height="18.0" rx="3.0" fill="#a0a0a0" filter="url(#b2)"/>
<rect x="101.5" y="1076.8" width="18.0" height="5.0" rx="2.5" fill="#484848" filter="url(#b1)"/>
<rect x="8.0" y="1065.2" width="116.4" height="30.8" fill="#fff" filter="url(#mottle)" style="mix-blend-mode:overlay"/>
<rect x="8.0" y="1065.2" width="116.4" height="30.8" fill="#fff" filter="url(#grain)" style="mix-blend-mode:overlay"/>
</g>
<clipPath id="cD2"><rect x="8.0" y="1104.8" width="116.4" height="30.2"/></clipPath>
<g clip-path="url(#cD2)">
<rect x="8.0" y="1104.8" width="116.4" height="30.2" fill="#c4c4c4"/>
<rect x="13.0" y="1106.0" width="17.0" height="28.0" rx="3.0" fill="#b2b2b2" filter="url(#b3)" opacity="0.80"/>
<rect x="72.0" y="1106.0" width="20.0" height="28.0" rx="3.0" fill="#b6b6b6" filter="url(#b3)" opacity="0.70"/>
<rect x="40.0" y="1110.0" width="20.0" height="18.0" rx="3.0" fill="#8a8a8a" filter="url(#b2)"/>
<rect x="40.5" y="1113.5" width="19.0" height="11.5" rx="3.0" fill="#363636" filter="url(#b1)"/>
<rect x="102.0" y="1110.0" width="18.0" height="18.0" rx="3.0" fill="#8e8e8e" filter="url(#b2)"/>
<rect x="102.5" y="1113.8" width="17.3" height="11.0" rx="3.0" fill="#444444" filter="url(#b1)"/>
<rect x="8.0" y="1104.8" width="116.4" height="30.2" fill="#fff" filter="url(#mottle)" style="mix-blend-mode:overlay"/>
<rect x="8.0" y="1104.8" width="116.4" height="30.2" fill="#fff" filter="url(#grain)" style="mix-blend-mode:overlay"/>
</g>
<clipPath id="cD3"><rect x="8.0" y="1143.4" width="116.4" height="29.6"/></clipPath>
<g clip-path="url(#cD3)">
<rect x="8.0" y="1143.4" width="116.4" height="29.6" fill="#c0c0c0"/>
<rect x="12.5" y="1153.3" width="107.5" height="9.0" rx="3.0" fill="#3c3c3c" filter="url(#b1)"/>
<path d="M8.8 1157.8 L14.8 1148.3 L31.7 1148.3 L37.7 1157.8 L31.7 1167.3 L14.8 1167.3 Z" fill="#383838" stroke="#383838" stroke-width="2" stroke-linejoin="round" filter="url(#b1)"/>
<path d="M38.8 1157.8 L44.8 1148.3 L60.7 1148.3 L66.7 1157.8 L60.7 1167.3 L44.8 1167.3 Z" fill="#383838" stroke="#383838" stroke-width="2" stroke-linejoin="round" filter="url(#b1)"/>
<path d="M67.8 1157.8 L73.8 1148.3 L89.7 1148.3 L95.7 1157.8 L89.7 1167.3 L73.8 1167.3 Z" fill="#383838" stroke="#383838" stroke-width="2" stroke-linejoin="round" filter="url(#b1)"/>
<path d="M96.8 1157.8 L102.8 1148.3 L117.7 1148.3 L123.7 1157.8 L117.7 1167.3 L102.8 1167.3 Z" fill="#383838" stroke="#383838" stroke-width="2" stroke-linejoin="round" filter="url(#b1)"/>
<rect x="8.0" y="1143.4" width="116.4" height="29.6" fill="#fff" filter="url(#mottle)" style="mix-blend-mode:overlay"/>
<rect x="8.0" y="1143.4" width="116.4" height="29.6" fill="#fff" filter="url(#grain)" style="mix-blend-mode:overlay"/>
</g>
<clipPath id="cD4"><rect x="149.5" y="1064.8" width="124.4" height="30.8"/></clipPath>
<g clip-path="url(#cD4)">
<rect x="149.5" y="1064.8" width="124.4" height="30.8" fill="#a6a6a6"/>
<rect x="252.0" y="1071.0" width="19.0" height="24.0" rx="3.0" fill="#747474" filter="url(#b2)"/>
<rect x="254.0" y="1077.0" width="15.0" height="8.0" rx="3.0" fill="#5c5c5c" filter="url(#b2)"/>
<rect x="218.0" y="1070.0" width="20.0" height="24.0" rx="3.0" fill="#9a9a9a" filter="url(#b3)" opacity="0.70"/>
<rect x="149.5" y="1064.8" width="124.4" height="30.8" fill="#fff" filter="url(#mottle)" style="mix-blend-mode:overlay"/>
<rect x="149.5" y="1064.8" width="124.4" height="30.8" fill="#fff" filter="url(#grain)" style="mix-blend-mode:overlay"/>
</g>
<clipPath id="cD5"><rect x="149.5" y="1104.5" width="124.4" height="29.7"/></clipPath>
<g clip-path="url(#cD5)">
<rect x="149.5" y="1104.5" width="124.4" height="29.7" fill="#b0b0b0"/>
<rect x="155.0" y="1108.0" width="18.0" height="26.0" rx="3.0" fill="#939393" filter="url(#b2)"/>
<rect x="187.0" y="1108.0" width="19.0" height="26.0" rx="3.0" fill="#8e8e8e" filter="url(#b2)"/>
<rect x="220.0" y="1107.0" width="20.0" height="26.0" rx="3.0" fill="#848484" filter="url(#b2)"/>
<rect x="251.0" y="1107.0" width="21.0" height="26.0" rx="3.0" fill="#6a6a6a" filter="url(#b2)"/>
<rect x="253.0" y="1114.5" width="18.0" height="13.0" rx="3.0" fill="#3a3a3a" filter="url(#b2)"/>
<rect x="149.5" y="1104.5" width="124.4" height="29.7" fill="#fff" filter="url(#mottle)" style="mix-blend-mode:overlay"/>
<rect x="149.5" y="1104.5" width="124.4" height="29.7" fill="#fff" filter="url(#grain)" style="mix-blend-mode:overlay"/>
</g>
<clipPath id="cD6"><rect x="149.5" y="1143.2" width="124.4" height="29.8"/></clipPath>
<g clip-path="url(#cD6)">
<rect x="149.5" y="1143.2" width="124.4" height="29.8" fill="#c0c0c0"/>
<rect x="154.0" y="1150.3" width="116.0" height="15.0" rx="3.0" fill="#3c3c3c" filter="url(#b1)"/>
<path d="M150.3 1157.8 L154.8 1147.3 L175.7 1147.3 L180.2 1157.8 L175.7 1168.3 L154.8 1168.3 Z" fill="#383838" stroke="#383838" stroke-width="2" stroke-linejoin="round" filter="url(#b1)"/>
<path d="M181.3 1157.8 L185.8 1146.8 L207.2 1146.8 L211.7 1157.8 L207.2 1168.8 L185.8 1168.8 Z" fill="#383838" stroke="#383838" stroke-width="2" stroke-linejoin="round" filter="url(#b1)"/>
<path d="M212.8 1157.8 L217.3 1149.3 L238.2 1149.3 L242.7 1157.8 L238.2 1166.3 L217.3 1166.3 Z" fill="#383838" stroke="#383838" stroke-width="2" stroke-linejoin="round" filter="url(#b1)"/>
<path d="M243.8 1157.8 L248.3 1147.3 L269.2 1147.3 L273.7 1157.8 L269.2 1168.3 L248.3 1168.3 Z" fill="#383838" stroke="#383838" stroke-width="2" stroke-linejoin="round" filter="url(#b1)"/>
<rect x="149.5" y="1143.2" width="124.4" height="29.8" fill="#fff" filter="url(#mottle)" style="mix-blend-mode:overlay"/>
<rect x="149.5" y="1143.2" width="124.4" height="29.8" fill="#fff" filter="url(#grain)" style="mix-blend-mode:overlay"/>
</g>
<clipPath id="cD7"><rect x="283.3" y="1065.3" width="138.7" height="30.5"/></clipPath>
<g clip-path="url(#cD7)">
<rect x="283.3" y="1065.3" width="138.7" height="30.5" fill="#aaaaaa"/>
<rect x="398.0" y="1070.0" width="21.0" height="22.0" rx="3.0" fill="#8a8a8a" filter="url(#b2)"/>
<rect x="400.0" y="1074.5" width="17.0" height="9.0" rx="3.0" fill="#727272" filter="url(#b2)"/>
<rect x="283.3" y="1065.3" width="138.7" height="30.5" fill="#fff" filter="url(#mottle)" style="mix-blend-mode:overlay"/>
<rect x="283.3" y="1065.3" width="138.7" height="30.5" fill="#fff" filter="url(#grain)" style="mix-blend-mode:overlay"/>
</g>
<clipPath id="cD8"><rect x="283.3" y="1104.4" width="138.7" height="29.8"/></clipPath>
<g clip-path="url(#cD8)">
<rect x="283.3" y="1104.4" width="138.7" height="29.8" fill="#c0c0c0"/>
<rect x="398.0" y="1108.0" width="21.0" height="24.0" rx="3.0" fill="#9c9c9c" filter="url(#b2)"/>
<rect x="400.0" y="1113.5" width="18.0" height="11.0" rx="3.0" fill="#7a7a7a" filter="url(#b2)"/>
<rect x="362.0" y="1115.0" width="16.0" height="14.0" rx="3.0" fill="#b0b0b0" filter="url(#b3)" opacity="0.80"/>
<rect x="283.3" y="1104.4" width="138.7" height="29.8" fill="#fff" filter="url(#mottle)" style="mix-blend-mode:overlay"/>
<rect x="283.3" y="1104.4" width="138.7" height="29.8" fill="#fff" filter="url(#grain)" style="mix-blend-mode:overlay"/>
</g>
<clipPath id="cD9"><rect x="283.3" y="1143.6" width="138.7" height="29.4"/></clipPath>
<g clip-path="url(#cD9)">
<rect x="283.3" y="1143.6" width="138.7" height="29.4" fill="#c0c0c0"/>
<rect x="288.0" y="1150.3" width="130.0" height="15.0" rx="3.0" fill="#3c3c3c" filter="url(#b1)"/>
<path d="M284.3 1157.8 L289.3 1147.3 L312.7 1147.3 L317.7 1157.8 L312.7 1168.3 L289.3 1168.3 Z" fill="#383838" stroke="#383838" stroke-width="2" stroke-linejoin="round" filter="url(#b1)"/>
<path d="M318.8 1157.8 L323.8 1147.3 L348.2 1147.3 L353.2 1157.8 L348.2 1168.3 L323.8 1168.3 Z" fill="#383838" stroke="#383838" stroke-width="2" stroke-linejoin="round" filter="url(#b1)"/>
<path d="M354.3 1157.8 L359.3 1147.3 L383.2 1147.3 L388.2 1157.8 L383.2 1168.3 L359.3 1168.3 Z" fill="#383838" stroke="#383838" stroke-width="2" stroke-linejoin="round" filter="url(#b1)"/>
<path d="M389.3 1157.8 L394.3 1147.8 L416.7 1147.8 L421.7 1157.8 L416.7 1167.8 L394.3 1167.8 Z" fill="#383838" stroke="#383838" stroke-width="2" stroke-linejoin="round" filter="url(#b1)"/>
<rect x="283.3" y="1143.6" width="138.7" height="29.4" fill="#fff" filter="url(#mottle)" style="mix-blend-mode:overlay"/>
<rect x="283.3" y="1143.6" width="138.7" height="29.4" fill="#fff" filter="url(#grain)" style="mix-blend-mode:overlay"/>
</g>
</svg></body></html>
